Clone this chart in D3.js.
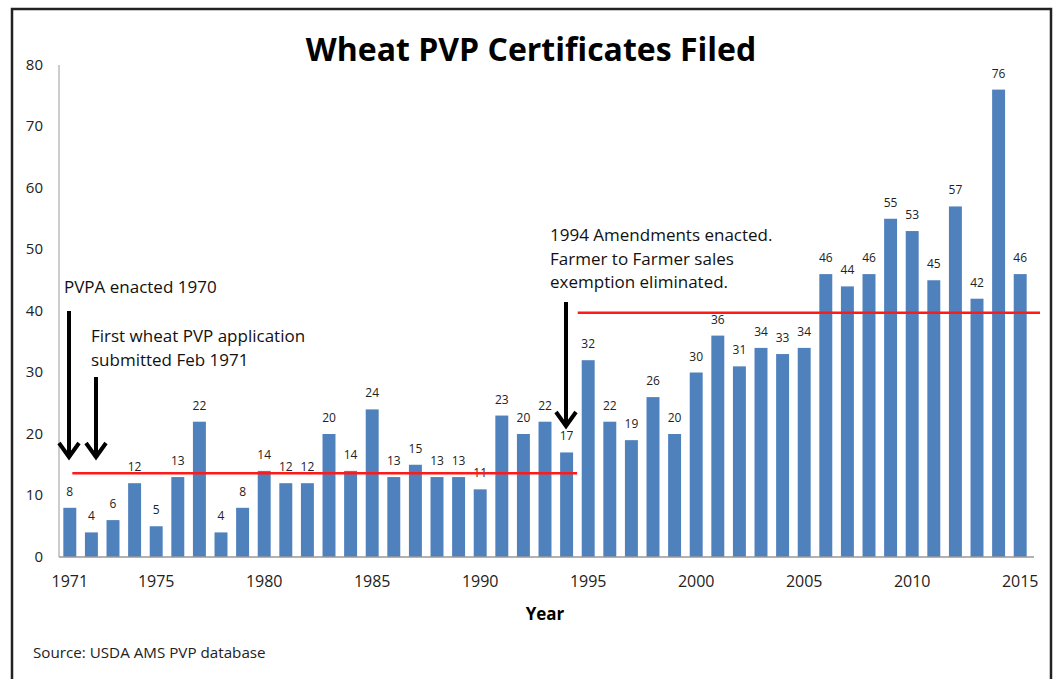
<!DOCTYPE html>
<html>
<head>
<meta charset="utf-8">
<script src="https://cdn.jsdelivr.net/npm/d3@7"></script>
<style>
  body { margin: 0; background: #fff; }
  svg { display: block; }
</style>
</head>
<body>
<svg id="chart" width="1055" height="679"></svg>
<script>
// chart values
var years = [1971,1972,1973,1974,1975,1976,1977,1978,1979,1980,
             1981,1982,1983,1984,1985,1986,1987,1988,1989,1990,
             1991,1992,1993,1994,1995,1996,1997,1998,1999,2000,
             2001,2002,2003,2004,2005,2006,2007,2008,2009,2010,
             2011,2012,2013,2014,2015];
var filed = [8,4,6,12,5,13,22,4,8,14,
             12,12,20,14,24,13,15,13,13,11,
             23,20,22,17,32,22,19,26,20,30,
             36,31,34,33,34,46,44,46,55,53,
             45,57,42,76,46];
var yTicks = [0,10,20,30,40,50,60,70,80];
var xTickYears = [1971,1975,1980,1985,1990,1995,2000,2005,2010,2015];

// average lines before / after the 1994 amendments
var avgBefore = 13.6, avgAfter = 39.7;

var svg = d3.select("#chart");
var margin = {top: 65, left: 59};
var plotW = 972, plotH = 492;

var x = d3.scaleBand().domain(years).range([0, plotW]).paddingInner(0.4).paddingOuter(0.2);
var y = d3.scaleLinear().domain([0, 80]).range([plotH, 0]);

// outer frame
svg.append("path")
  .attr("d", "M12,690 L12,9 L1051,9 L1051,690")
  .attr("fill", "none").attr("stroke", "#222").attr("stroke-width", 2.5);

var g = svg.append("g").attr("transform", "translate(" + margin.left + "," + margin.top + ")");

// title
svg.append("text")
  .attr("x", 531).attr("y", 61)
  .attr("text-anchor", "middle")
  .style("font-family", "'Open Sans', sans-serif")
  .style("font-weight", "bold").style("font-size", "32px")
  .text("Wheat PVP Certificates Filed");

// y axis
g.append("line").attr("x1", 0).attr("x2", 0).attr("y1", 0).attr("y2", plotH)
  .attr("stroke", "#999").attr("stroke-width", 1);
g.selectAll(".ytick").data(yTicks).enter().append("text")
  .attr("x", -16).attr("y", function(d){ return y(d); })
  .attr("dy", "0.3em").attr("text-anchor", "end")
  .style("font-family", "'Open Sans', sans-serif")
  .style("font-size", "15px").attr("fill", "#222")
  .text(function(d){ return d; });

// bars
g.selectAll(".bar").data(filed).enter().append("rect")
  .attr("x", function(d, i){ return x(years[i]); })
  .attr("y", function(d){ return y(d); })
  .attr("width", x.bandwidth())
  .attr("height", function(d){ return plotH - y(d); })
  .attr("fill", "#4f81bd");

// bar value labels
g.selectAll(".lbl").data(filed).enter().append("text")
  .attr("x", function(d, i){ return x(years[i]) + x.bandwidth() / 2; })
  .attr("y", function(d){ return y(d) - 12; })
  .attr("text-anchor", "middle")
  .style("font-family", "'Open Sans', sans-serif")
  .style("font-size", "12px").attr("fill", "#222")
  .text(function(d){ return d; });

// x axis
g.append("line").attr("x1", 0).attr("x2", plotW + 3).attr("y1", plotH).attr("y2", plotH)
  .attr("stroke", "#999").attr("stroke-width", 1.5);
g.selectAll(".xtick").data(xTickYears).enter().append("text")
  .attr("x", function(d){ return x(d) + x.bandwidth() / 2; })
  .attr("y", plotH + 30)
  .attr("text-anchor", "middle")
  .style("font-family", "'Open Sans', sans-serif")
  .style("font-size", "16px").attr("fill", "#222")
  .text(function(d){ return d; });

svg.append("text")
  .attr("x", 545).attr("y", 620).attr("text-anchor", "middle")
  .style("font-family", "'Open Sans', sans-serif")
  .style("font-weight", "bold").style("font-size", "17px")
  .text("Year");

svg.append("text")
  .attr("x", 33).attr("y", 658)
  .style("font-family", "'Open Sans', sans-serif")
  .style("font-size", "15.2px").attr("fill", "#222")
  .text("Source: USDA AMS PVP database");

// red average lines
g.append("line")
  .attr("x1", x(1971) + 9).attr("x2", x(1994) + x.bandwidth() + 4)
  .attr("y1", y(avgBefore)).attr("y2", y(avgBefore))
  .attr("stroke", "#ff1a1a").attr("stroke-width", 2.5);
g.append("line")
  .attr("x1", x(1995) - 4).attr("x2", plotW + 9)
  .attr("y1", y(avgAfter)).attr("y2", y(avgAfter))
  .attr("stroke", "#ff1a1a").attr("stroke-width", 2.5);

// arrows
function arrow(cx, y1, y2) {
  var a = svg.append("g").attr("fill", "none").attr("stroke", "#000")
    .attr("stroke-width", 4);
  a.append("line").attr("x1", cx).attr("x2", cx).attr("y1", y1).attr("y2", y2 - 2);
  a.append("path")
    .attr("d", "M" + (cx - 10) + "," + (y2 - 14) + " L" + cx + "," + y2 + " L" + (cx + 10) + "," + (y2 - 14))
    .attr("stroke-linejoin", "miter");
}
arrow(69, 311, 457);
arrow(96, 377, 457);
arrow(566, 302, 426);

// annotations
function note(x0, y0, lines) {
  var t = svg.append("text")
    .style("font-family", "'Open Sans', sans-serif")
    .style("font-size", "17px").attr("fill", "#111");
  lines.forEach(function(s, i){
    t.append("tspan").attr("x", x0).attr("y", y0 + i * 23.5).text(s);
  });
}
note(64, 293, ["PVPA enacted 1970"]);
note(91, 342, ["First wheat PVP application", "submitted Feb 1971"]);
note(550, 241, ["1994 Amendments enacted.", "Farmer to Farmer sales", "exemption eliminated."]);
</script>
</body>
</html>
